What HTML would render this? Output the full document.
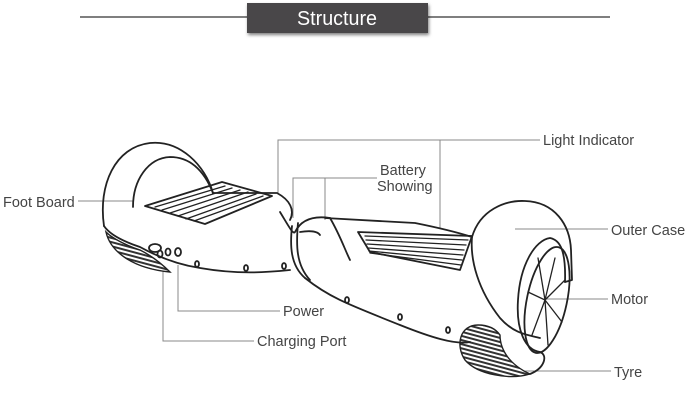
<!DOCTYPE html>
<html><head><meta charset="utf-8"><style>
body{margin:0;background:#fff;}
svg{display:block}
text{font-family:"Liberation Sans",sans-serif;fill:#444;}
</style></head><body>
<svg width="700" height="407" viewBox="0 0 700 407" xmlns="http://www.w3.org/2000/svg">
<defs>
<filter id="sh" x="-10%" y="-20%" width="120%" height="160%"><feDropShadow dx="1" dy="2" stdDeviation="1.5" flood-color="#000" flood-opacity="0.5"/></filter>
<pattern id="hatch" width="6" height="4" patternUnits="userSpaceOnUse" patternTransform="rotate(15)">
<rect width="6" height="4" fill="#fff"/><rect width="6" height="2" fill="#333"/></pattern>
</defs>
<line x1="80" y1="17" x2="610" y2="17" stroke="#333" stroke-width="1.2"/>
<rect x="247" y="3" width="181" height="30" fill="#4a4749" filter="url(#sh)"/>
<text x="337" y="25" font-size="20" text-anchor="middle" style="fill:#fff" textLength="80" lengthAdjust="spacingAndGlyphs">Structure</text>

<!-- leaders -->
<g stroke="#888" stroke-width="1" fill="none">
<path d="M78,201 H133"/>
<path d="M278,193 V140 H540 M440,140 V228"/>
<path d="M293,218 V178 H377 M325,178 V220"/>
<path d="M515,229 H608"/>
<path d="M545,299 H608"/>
<path d="M525,371 H611"/>
<path d="M178,265 V311 H280"/>
<path d="M163,270 V341 H254"/>
</g>

<!-- tyres -->
<path d="M106,232 C110,250 130,268 170,272 C160,262 150,255 140,250 C125,245 112,238 106,232 Z" fill="url(#hatch)" stroke="#222" stroke-width="1.4"/>
<path d="M478,325 C460,325 455,345 465,360 C478,375 510,380 530,374 C510,365 500,350 500,335 C495,328 488,325 478,325 Z" fill="url(#hatch)" stroke="#222" stroke-width="1.4"/>

<!-- drawing -->
<g stroke="#222" stroke-width="1.8" fill="none" stroke-linejoin="round" stroke-linecap="round">
<path d="M104,226 C98,185 115,147 150,143 C180,140 205,165 213,193"/>
<path d="M133,207 C133,180 148,158 170,157 C195,157 207,178 213,193"/>
<path d="M104,226 C110,235 125,242 140,247 C160,258 180,265 200,268 C240,275 270,272 290,270"/>
<path d="M213,193 L277,193 C290,200 295,210 290,220"/>
<path d="M145,206 L222,182 L272,196 L205,224 Z"/>
<g stroke-width="1.3"><path d="M155,207 L225,186 M162,210 L232,188 M170,213 L240,190 M178,216 L248,192 M186,219 L256,194 M194,221 L263,196"/></g>
<ellipse cx="155" cy="248" rx="6" ry="4"/>
<ellipse cx="160" cy="254" rx="2.5" ry="3.5"/>
<ellipse cx="168" cy="252" rx="2.5" ry="3.5"/>
<ellipse cx="178" cy="252" rx="3" ry="4"/>
<ellipse cx="197" cy="264" rx="2" ry="3"/>
<ellipse cx="246" cy="268" rx="2" ry="3"/>
<ellipse cx="284" cy="266" rx="2" ry="3"/>
<path d="M280,212 C288,225 293,235 295,232 C300,222 310,215 330,218"/>
<path d="M292,226 C290,245 290,265 305,278"/>
<path d="M298,223 C296,245 296,265 310,280"/>
<path d="M300,232 C312,230 318,232 320,235"/>
<path d="M325,218 L415,223 C430,226 450,230 472,237"/>
<path d="M305,278 C330,298 350,305 400,325 C430,337 455,345 470,342"/>
<path d="M330,218 C340,235 345,250 350,260"/>
<ellipse cx="347" cy="300" rx="2" ry="3"/>
<ellipse cx="400" cy="317" rx="2" ry="3"/>
<ellipse cx="448" cy="330" rx="2" ry="3"/>
<path d="M358,232 L472,236 L460,270 L370,252 Z"/>
<g stroke-width="1.3"><path d="M365,236 L468,240 M366,240 L466,245 M367,244 L464,250 M368,248 L463,255 M369,251 L462,260 M370,253 L461,265"/></g>
<path d="M472,237 C480,210 505,200 525,201 C555,202 570,225 571,250 L572,280 L565,282"/>
<path d="M472,237 C470,260 478,290 500,318 C515,335 530,335 540,338"/>
<path d="M565,282 C566,250 560,240 550,238 C535,240 520,265 518,300 C516,330 525,350 540,352"/>
<ellipse cx="547" cy="300" rx="20" ry="54" transform="rotate(12 547 300)"/>
<g stroke-width="1.3"><path d="M545,300 L555,258 M545,300 L565,280 M545,300 L562,322 M545,300 L548,345 M545,300 L532,335 M545,300 L528,292 M545,300 L538,258"/></g>
<path d="M530,374 C545,368 548,355 540,352"/>
</g>

<g font-size="14.5">
<text x="3" y="207">Foot Board</text>
<text x="543" y="145">Light Indicator</text>
<text x="380" y="175">Battery</text>
<text x="377" y="191">Showing</text>
<text x="611" y="235">Outer Case</text>
<text x="611" y="304">Motor</text>
<text x="614" y="377">Tyre</text>
<text x="283" y="316">Power</text>
<text x="257" y="346">Charging Port</text>
</g>
</svg>
</body></html>
